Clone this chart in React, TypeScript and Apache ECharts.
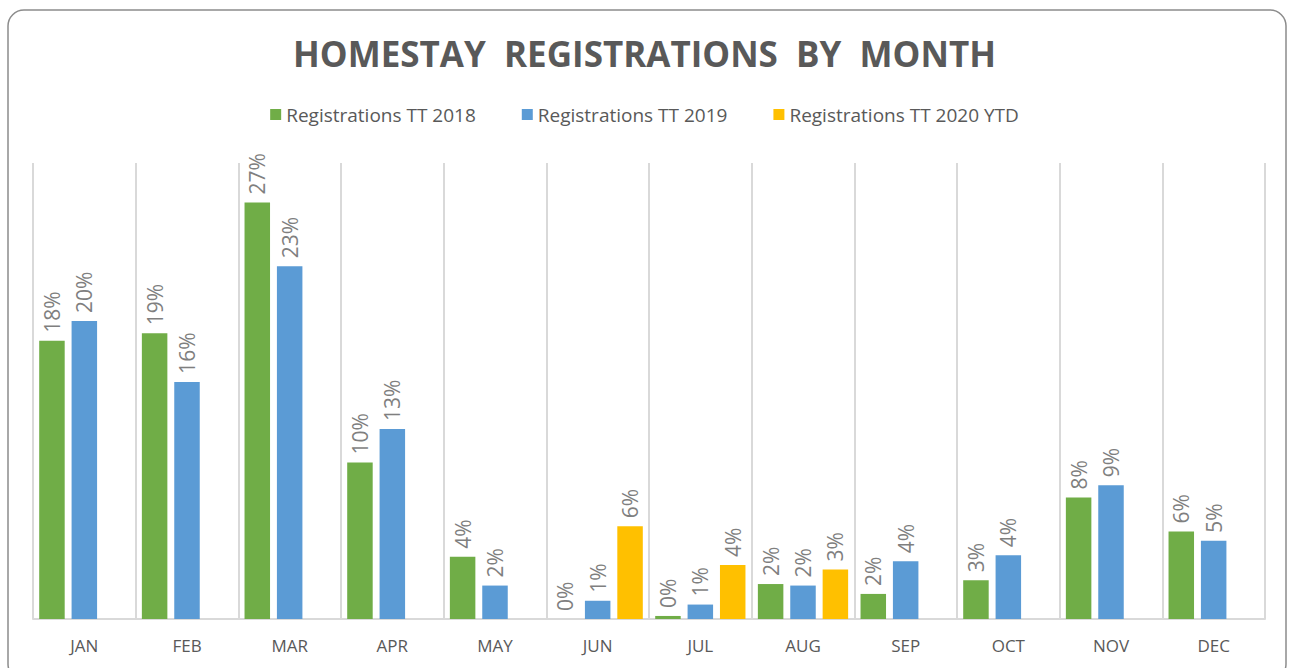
import React, { useEffect, useRef } from "react";
import * as echarts from "echarts";

const months = ["JAN", "FEB", "MAR", "APR", "MAY", "JUN", "JUL", "AUG", "SEP", "OCT", "NOV", "DEC"];
const seriesNames = ["Registrations TT 2018", "Registrations TT 2019", "Registrations TT 2020 YTD"];
const reg2018 = [18.3, 18.8, 27.4, 10.3, 4.1, 0, 0.2, 2.3, 1.65, 2.55, 8.0, 5.75];
const reg2019 = [19.6, 15.6, 23.2, 12.5, 2.2, 1.2, 0.95, 2.2, 3.8, 4.2, 8.8, 5.15];
const reg2020 = [null, null, null, null, null, 6.1, 3.55, 3.25, null, null, null, null];
const colors = ["#70ad47", "#5b9bd5", "#ffc000"];

export default function App() {
  const ref = useRef<HTMLDivElement>(null);
  useEffect(() => {
    const chart = echarts.init(ref.current!, null, { renderer: "svg" });
    const label = {
      show: true,
      position: "top",
      rotate: 90,
      align: "left",
      verticalAlign: "middle",
      distance: 8,
      color: "#7f7f7f",
      fontSize: 21,
      fontFamily: "Open Sans",
      formatter: (p: any) => Math.round(p.value) + "%",
    };
    const allData = [reg2018, reg2019, reg2020];
    chart.setOption({
      animation: false,
      color: colors,
      title: {
        text: "HOMESTAY  REGISTRATIONS  BY  MONTH",
        left: "center",
        top: 31,
        textStyle: { fontFamily: "Open Sans", fontWeight: "bold", fontSize: 35, color: "#595959" },
      },
      legend: {
        top: 100,
        left: "center",
        itemWidth: 11,
        itemHeight: 11,
        itemGap: 46,
        icon: "rect",
        textStyle: { fontFamily: "Open Sans", fontSize: 19, color: "#595959" },
      },
      graphic: [
        {
          type: "rect",
          shape: { x: 8, y: 10, width: 1278, height: 670, r: 16 },
          style: { fill: "none", stroke: "#8c8c8c", lineWidth: 1.5 },
          silent: true,
        },
      ],
      grid: { left: 33, right: 24, top: 163, bottom: 49 },
      xAxis: {
        type: "category",
        data: months,
        axisLine: { show: true, lineStyle: { color: "#d9d9d9", width: 2 } },
        axisTick: { show: false },
        splitLine: { show: true, interval: 0, lineStyle: { color: "#d9d9d9", width: 2 } },
        axisLabel: { color: "#595959", fontSize: 17, fontFamily: "Open Sans", margin: 18 },
      },
      yAxis: {
        type: "value",
        min: 0,
        max: 30,
        show: false,
        splitLine: { show: false },
      },
      series: allData.map((d, i) => ({
        name: seriesNames[i],
        type: "bar",
        data: d,
        barWidth: 25.5,
        barGap: "27%",
        label,
        itemStyle: { color: colors[i] },
      })),
    });
    return () => chart.dispose();
  }, []);
  return (
    <div
      ref={ref}
      style={{ position: "absolute", left: 0, top: 0, width: 1289, height: 668, background: "#fff" }}
    />
  );
}
